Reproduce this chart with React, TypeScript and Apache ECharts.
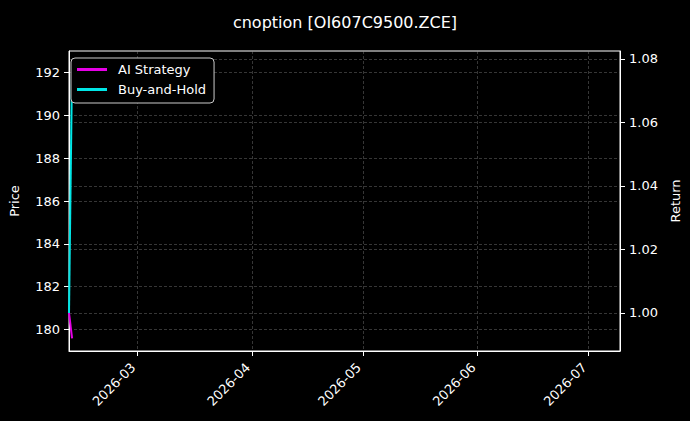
import { useEffect, useRef } from "react";
import * as echarts from "echarts";

// data
const dates = ["2026-02-10T12:00:00", "2026-02-11T08:00:00"];
const aiStrategy = [1.0, 0.992];
const buyAndHold = [1.0, 1.078];

const monthTicks = ["2026-03-01", "2026-04-01", "2026-05-01", "2026-06-01", "2026-07-01"];
const priceTicks = [180, 182, 184, 186, 188, 190, 192];
const returnTicks = [1.0, 1.02, 1.04, 1.06, 1.08];

const FONT = "DejaVu Sans";
const GRID_LINE = { show: true, lineStyle: { color: "rgba(150,150,150,0.45)", width: 0.8, type: [3, 2] } };

export default function App() {
  const chartRef = useRef<HTMLDivElement>(null);

  useEffect(() => {
    if (!chartRef.current) return;
    const chart = echarts.init(chartRef.current, null, { renderer: "svg" });

    const toTs = (s: string) => new Date(s + (s.length === 10 ? "T00:00:00" : "")).getTime();
    const pad = (n: number) => (n < 10 ? "0" + n : "" + n);

    chart.setOption({
      animation: false,
      backgroundColor: "#000",
      textStyle: { fontFamily: FONT },
      title: {
        text: "cnoption [OI607C9500.ZCE]",
        left: "center",
        top: 9,
        textStyle: { color: "#fff", fontSize: 16, fontWeight: "normal", fontFamily: FONT },
      },
      legend: {
        orient: "vertical",
        left: 71,
        top: 58,
        padding: [5, 8, 7, 6],
        itemGap: 7,
        itemWidth: 30,
        itemHeight: 3,
        icon: "rect",
        backgroundColor: "#000",
        borderColor: "#ccc",
        borderWidth: 1,
        borderRadius: 4,
        textStyle: { color: "#fff", fontSize: 13, fontFamily: FONT, padding: [0, 0, 0, 6] },
        data: ["AI Strategy", "Buy-and-Hold"],
      },
      grid: {
        left: 67,
        right: 70,
        top: 51,
        bottom: 70,
        show: true,
        borderColor: "#fff",
        borderWidth: 1,
        backgroundColor: "transparent",
      },
      xAxis: {
        type: "value",
        min: toTs("2026-02-10T12:00:00"),
        max: toTs("2026-07-09T12:00:00"),
        axisLine: { show: true, onZero: false, lineStyle: { color: "#fff" } },
        axisTick: {
          show: true,
          length: 5,
          lineStyle: { color: "#fff" },
          customValues: monthTicks.map(toTs),
        },
        axisLabel: {
          color: "#fff",
          fontSize: 13,
          fontFamily: FONT,
          rotate: 45,
          margin: 10,
          padding: [0, 6, 0, 0],
          customValues: monthTicks.map(toTs),
          formatter: (v: number) => {
            const d = new Date(v);
            return d.getFullYear() + "-" + pad(d.getMonth() + 1);
          },
        },
        splitLine: GRID_LINE,
      },
      yAxis: [
        {
          type: "value",
          name: "Price",
          nameLocation: "middle",
          nameGap: 48,
          nameTextStyle: { color: "#fff", fontSize: 13, fontFamily: FONT },
          min: 179,
          max: 193,
          axisLine: { show: true, lineStyle: { color: "#fff" } },
          axisTick: { show: true, length: 5, lineStyle: { color: "#fff" }, customValues: priceTicks },
          axisLabel: { color: "#fff", fontSize: 13, fontFamily: FONT, margin: 9, customValues: priceTicks },
          splitLine: GRID_LINE,
        },
        {
          type: "value",
          name: "Return",
          nameLocation: "middle",
          nameGap: 48,
          nameTextStyle: { color: "#fff", fontSize: 13, fontFamily: FONT },
          min: 0.988,
          max: 1.0825,
          position: "right",
          axisLine: { show: true, lineStyle: { color: "#fff" } },
          axisTick: { show: true, length: 5, lineStyle: { color: "#fff" }, customValues: returnTicks },
          axisLabel: {
            color: "#fff",
            fontSize: 13,
            fontFamily: FONT,
            margin: 9,
            customValues: returnTicks,
            formatter: (v: number) => v.toFixed(2),
          },
          splitLine: GRID_LINE,
        },
      ],
      series: [
        {
          name: "AI Strategy",
          type: "line",
          yAxisIndex: 1,
          symbol: "none",
          data: dates.map((d, i) => [toTs(d), aiStrategy[i]]),
          lineStyle: { color: "#e600e6", width: 2 },
          itemStyle: { color: "#e600e6" },
        },
        {
          name: "Buy-and-Hold",
          type: "line",
          yAxisIndex: 1,
          symbol: "none",
          data: dates.map((d, i) => [toTs(d), buyAndHold[i]]),
          lineStyle: { color: "#00e6e6", width: 2 },
          itemStyle: { color: "#00e6e6" },
        },
      ],
    });

    return () => {
      chart.dispose();
    };
  }, []);

  return (
    <div
      ref={chartRef}
      style={{ position: "absolute", left: 0, top: 0, width: 690, height: 421 }}
    />
  );
}
